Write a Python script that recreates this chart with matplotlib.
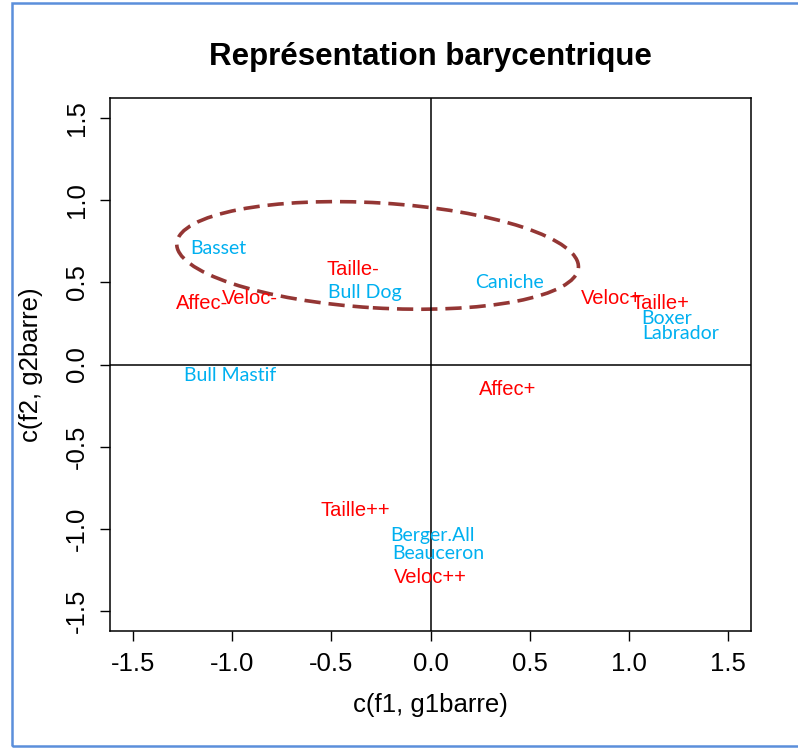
import matplotlib.pyplot as plt
from matplotlib.patches import Ellipse, Rectangle

# modalites (rouge) et individus (bleu), coordonnees
modal_labels = ["Taille-", "Affec-", "Veloc-", "Veloc+", "Taille+", "Affec+",
                "Taille++", "Veloc++"]
modal_x = [-0.39, -1.15, -0.91, 0.91, 1.16, 0.39, -0.38, 0.00]
modal_y = [0.58, 0.37, 0.40, 0.40, 0.37, -0.15, -0.89, -1.30]

chien_labels = ["Basset", "Bull Dog", "Bull Mastif", "Caniche", "Boxer",
                "Labrador", "Berger.All", "Beauceron"]
chien_x = [-1.07, -0.33, -1.01, 0.40, 1.19, 1.26, 0.01, 0.04]
chien_y = [0.71, 0.44, -0.07, 0.50, 0.28, 0.19, -1.04, -1.15]

ticks = [-1.5, -1.0, -0.5, 0.0, 0.5, 1.0, 1.5]

fig = plt.figure(figsize=(7.98, 7.49), dpi=100)
ax = fig.add_axes([0.1378, 0.1575, 0.8035, 0.7117])

ax.set_xlim(-1.616, 1.616)
ax.set_ylim(-1.625, 1.625)
ax.axhline(0, color="black", lw=1.1)
ax.axvline(0, color="black", lw=1.1)

for lab, x, y in zip(modal_labels, modal_x, modal_y):
    ax.text(x, y, lab, color="#ff0000", fontsize=14.5, ha="center", va="center",
            family="Liberation Sans")
for lab, x, y in zip(chien_labels, chien_x, chien_y):
    ax.text(x, y, lab, color="#00b0f0", fontsize=14, ha="center", va="center",
            family="Lato")

ell = Ellipse((-0.267, 0.665), 2.03, 0.64, angle=-4.3, fill=False,
              edgecolor="#943634", lw=2.6, linestyle=(0, (4.5, 2.2)))
ax.add_patch(ell)

ax.set_xticks(ticks)
ax.set_yticks(ticks)
ax.set_xticklabels([f"{t:.1f}" for t in ticks])
ax.set_yticklabels([f"{t:.1f}" for t in ticks], rotation=90, va="center")
ax.tick_params(direction="out", length=7, width=1, labelsize=18.5, pad=8)
for s in ax.spines.values():
    s.set_linewidth(1.1)

ax.set_xlabel("c(f1, g1barre)", fontsize=18.5, labelpad=12)
ax.set_ylabel("c(f2, g2barre)", fontsize=18.5, labelpad=16)
ax.set_title("Représentation barycentrique", fontsize=22.5, fontweight="bold", pad=24)

for t in fig.findobj(match=lambda o: hasattr(o, "set_family") and o not in ax.texts):
    t.set_family("Liberation Sans")

# cadre bleu autour de la figure
fig.patches.append(Rectangle((12 / 798, 3 / 749), 1.0, 743 / 749, transform=fig.transFigure,
                             fill=False, edgecolor="#5b8fdb", lw=1.8))

plt.savefig("out.png", dpi=100)
